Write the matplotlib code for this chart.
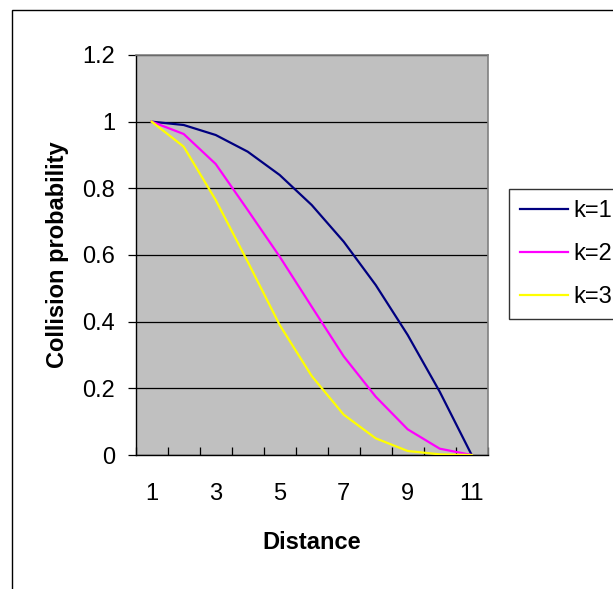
import matplotlib
matplotlib.use("Agg")
import matplotlib.pyplot as plt
from matplotlib.patches import Rectangle

plt.rcParams['font.family'] = ['Liberation Sans', 'DejaVu Sans']

distance = list(range(1, 12))
k1 = [1.0, 0.99, 0.96, 0.91, 0.84, 0.75, 0.64, 0.51, 0.36, 0.19, 0.0]
k2 = [1.0, 0.963, 0.873, 0.735, 0.595, 0.445, 0.296, 0.175, 0.077, 0.019, 0.0]
k3 = [1.0, 0.925, 0.765, 0.58, 0.39, 0.237, 0.121, 0.05, 0.012, 0.002, 0.0]
labels = ["k=1", "k=2", "k=3"]
colors = ["#000080", "#FF00FF", "#FFFF00"]

W, H = 613, 589
FS = 17
fig = plt.figure(figsize=(W / 100, H / 100), dpi=100)
ax = fig.add_axes([135.7 / W, 1 - 455 / H, (487.7 - 135.7) / W, (455 - 55) / H])

# outer chart frame (cut off at right/bottom)
fig.patches.append(Rectangle((11.7 / W, -0.1), 1.2, 1.1 - 10 / H,
                             transform=fig.transFigure, fill=False,
                             edgecolor='black', lw=1.0, zorder=0))

ax.set_facecolor('#C0C0C0')
for ys, lab, col in zip([k1, k2, k3], labels, colors):
    ax.plot(distance, ys, '-', color=col, lw=1.6, label=lab, zorder=3)

ax.set_xlim(0.5, 11.5)
ax.set_ylim(0, 1.2)
ax.set_yticks([0, 0.2, 0.4, 0.6, 0.8, 1.0, 1.2])
ax.set_yticklabels(["0", "0.2", "0.4", "0.6", "0.8", "1", "1.2"])
ax.set_xticks([1, 3, 5, 7, 9, 11])
ax.set_xticks([x + 0.5 for x in range(0, 12)], minor=True)
ax.tick_params(axis='x', which='major', length=0, pad=20, labelsize=FS)
ax.tick_params(axis='x', which='minor', direction='in', length=5.8, width=0.9)
ax.tick_params(axis='y', direction='out', length=5.8, width=0.9, pad=9, labelsize=FS)
ax.yaxis.grid(True, color='black', lw=0.9)
ax.set_axisbelow(True)

for s in ['top', 'right']:
    ax.spines[s].set_color('#808080')
    ax.spines[s].set_linewidth(1.2)
for s in ['left', 'bottom']:
    ax.spines[s].set_color('black')
    ax.spines[s].set_linewidth(1.0)

ax.set_xlabel("Distance", fontsize=FS, fontweight='bold', labelpad=19)
ax.set_ylabel("Collision probability", fontsize=FS, fontweight='bold', labelpad=9.5)

leg = fig.legend(loc='upper left', bbox_to_anchor=(509.3 / W, 1 - 189.3 / H),
                 fontsize=FS, frameon=True, fancybox=False, edgecolor='black',
                 handlelength=2.03, handletextpad=0.22, labelspacing=0.9,
                 borderpad=0.45, borderaxespad=0)
leg.get_frame().set_linewidth(1.0)

fig.savefig("out.png", dpi=100)
